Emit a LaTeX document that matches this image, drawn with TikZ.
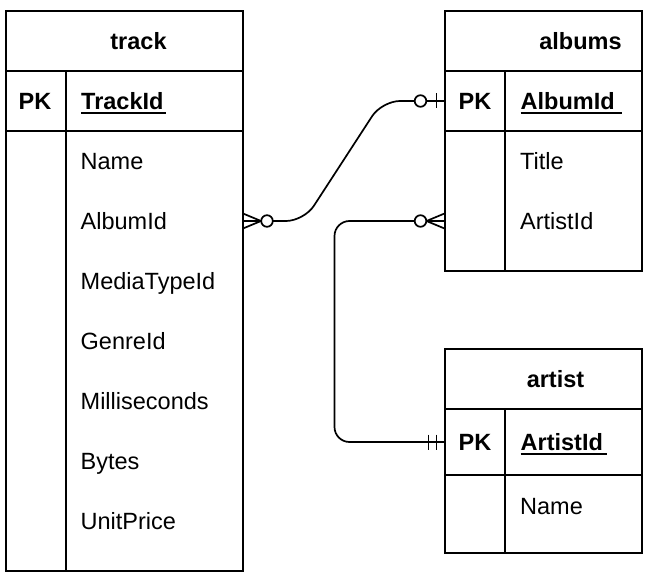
\documentclass[tikz,border=0pt]{standalone}
\usepackage{fontspec}
\setmainfont{Liberation Sans}
\usepackage{tikz}
\usetikzlibrary{calc}

% key field with a thick underline
\newcommand\keyfield[1]{\setbox0\hbox{#1}\rlap{\vrule width\wd0 height -2.3pt depth 4.3pt}\box0}

\tikzset{
  tbl/.style={draw, line width=2pt, outer sep=0pt, inner sep=0pt},
  tblline/.style={line width=2pt},
  cell/.style={inner sep=0pt, text height=16.8pt, text depth=0pt, font=\fontsize{23.5}{28}\selectfont},
  field/.style={cell, anchor=west},
  keyf/.style={field, font=\fontsize{23.5}{28}\selectfont\bfseries},
  head/.style={cell, font=\fontsize{23.5}{28}\selectfont\bfseries},
  rel/.style={line width=1.7pt},
  zeromany/.pic={
    \draw[rel] (0,-7.5) -- (18,0) -- (0,7.5) (0,0) -- (18,0);
    \draw[rel, fill=white] (24,0) circle (5.8);
  },
  zeroone/.pic={
    \draw[rel] (8,-7.5) -- (8,7.5) (0,0) -- (18,0);
    \draw[rel, fill=white] (24,0) circle (5.8);
  },
  oneone/.pic={
    \draw[rel] (8,-7.5) -- (8,7.5) (16,-7.5) -- (16,7.5);
  }
}

\begin{document}
\begin{tikzpicture}[x=1pt, y=-1pt]
    \useasboundingbox (0,0) rectangle (660,580);

    % Tables
    \node[tbl, minimum width=237pt, minimum height=560pt] (track) at (124.5,291) {};
    \node[tbl, minimum width=197.5pt, minimum height=260pt] (albums) at (543.25,141) {};
    \node[tbl, minimum width=197.5pt, minimum height=204pt] (artist) at (543.25,451) {};

    % Rows and columns
    \draw[tblline] (track.west |- 0,71) -- (track.east |- 0,71);
    \draw[tblline] (track.west |- 0,131) -- (track.east |- 0,131);
    \draw[tblline] (66,71) -- (66,571);
    \draw[tblline] (albums.west |- 0,71) -- (albums.east |- 0,71);
    \draw[tblline] (albums.west |- 0,131) -- (albums.east |- 0,131);
    \draw[tblline] (505,71) -- (505,271);
    \draw[tblline] (artist.west |- 0,409) -- (artist.east |- 0,409);
    \draw[tblline] (artist.west |- 0,475) -- (artist.east |- 0,475);
    \draw[tblline] (505,409) -- (505,553);

    % track
    \node[head] (tHead) at (138.5,41) {track};
    \node[head] (tPK) at (35,101) {PK};
    \node[keyf] (tTrackId) at (81,101) {\keyfield{TrackId\kern2.5pt}};
    \node[field] (tName) at (80.5,161) {Name};
    \node[field] (tAlbumId) at (80.5,221) {AlbumId};
    \node[field] (tMediaTypeId) at (80.5,281) {MediaTypeId};
    \node[field] (tGenreId) at (80.5,341) {GenreId};
    \node[field] (tMilliseconds) at (80.5,401) {Milliseconds};
    \node[field] (tBytes) at (80.5,461) {Bytes};
    \node[field] (tUnitPrice) at (80.5,521) {UnitPrice};

    % albums
    \node[head] (aHead) at (580.5,41) {albums};
    \node[head] (aPK) at (475,101) {PK};
    \node[keyf] (aAlbumId) at (520.5,101) {\keyfield{AlbumId\kern7pt}};
    \node[field] (aTitle) at (520,161) {Title};
    \node[field] (aArtistId) at (520,221) {ArtistId};

    % artist
    \node[head] (rHead) at (555.5,379) {artist};
    \node[head] (rPK) at (475,442) {PK};
    \node[keyf] (rArtistId) at (520.5,442) {\keyfield{ArtistId\kern4pt}};
    \node[field] (rName) at (520,506.5) {Name};

    % Relations
    \draw[rel, rounded corners=18pt] (track.east |- tAlbumId) -- ++(61,0) -- ++(78,-120) -- (albums.west |- aAlbumId);
    \draw[rel, rounded corners=15pt] (albums.west |- aArtistId) -- ++(-110,0) |- (artist.west |- rArtistId);

    % Ends
    \pic at (track.east |- tAlbumId) {zeromany};
    \pic[xscale=-1] at (albums.west |- aAlbumId) {zeroone};
    \pic[xscale=-1] at (albums.west |- aArtistId) {zeromany};
    \pic[xscale=-1] at (artist.west |- rArtistId) {oneone};
\end{tikzpicture}
\end{document}
